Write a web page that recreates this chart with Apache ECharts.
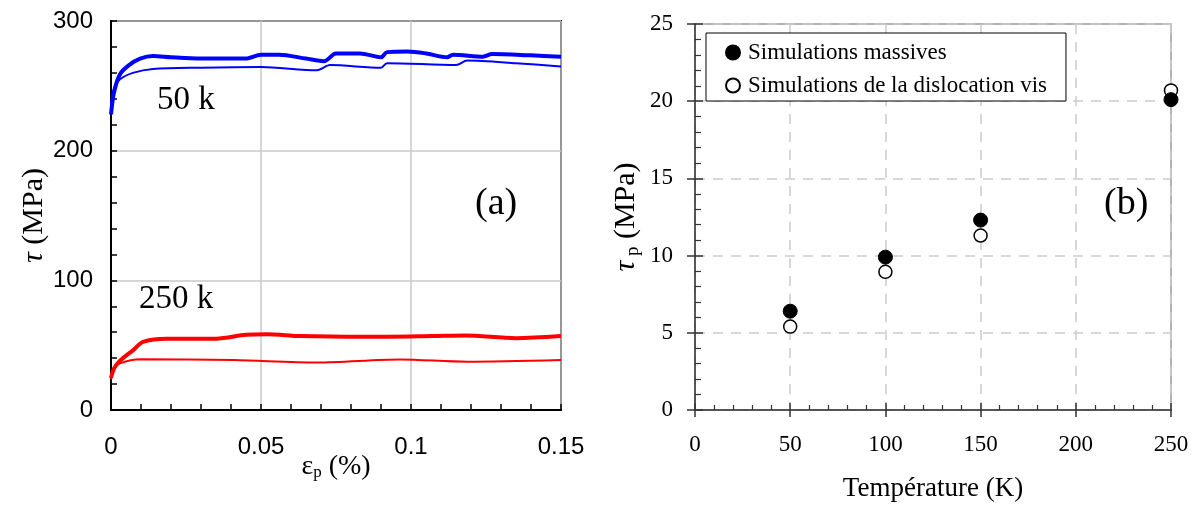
<!DOCTYPE html>
<html>
<head>
<meta charset="utf-8">
<script src="https://cdn.jsdelivr.net/npm/echarts@6/dist/echarts.min.js"></script>
<style>
  html, body { margin: 0; padding: 0; background: #fff; }
  #main { width: 1197px; height: 508px; }
</style>
</head>
<body>
<div id="main"></div>
<script>
// (a) courbes contrainte / deformation
var blueThickX = [0, 0.001, 0.003, 0.006, 0.0097, 0.014, 0.02, 0.03, 0.045, 0.05, 0.056, 0.065, 0.071, 0.075, 0.083, 0.09, 0.092, 0.0987, 0.105, 0.112, 0.114, 0.124, 0.127, 0.14, 0.15]
var blueThickY = [228, 245, 259, 266, 271, 273, 272, 271, 271, 274, 274, 271, 269, 275, 275, 272, 276, 276.5, 275, 272, 274, 272.5, 274.5, 273.5, 272.5]
var blueThinX = [0, 0.001, 0.003, 0.0073, 0.014, 0.03, 0.05, 0.0687, 0.073, 0.09, 0.092, 0.115, 0.1187, 0.135, 0.15]
var blueThinY = [236, 248, 255, 260, 263, 264, 264.5, 262, 266, 264, 267.5, 266, 269.5, 267.5, 265]
var redThickX = [0, 0.001, 0.003, 0.0073, 0.0107, 0.0187, 0.035, 0.045, 0.052, 0.063, 0.085, 0.107, 0.118, 0.135, 0.15]
var redThickY = [24.6, 32, 38, 46, 52.6, 55, 55, 58, 58.5, 57, 56.4, 57, 57.5, 55.4, 57]
var redThinX = [0, 0.001, 0.003, 0.0097, 0.041, 0.0687, 0.0963, 0.1187, 0.15]
var redThinY = [24, 32, 36, 39.2, 38.5, 36.7, 39, 37.2, 38.5]

// (b) contrainte de Peierls vs temperature
var temperatures = [50, 100, 150, 250]
var massives = [6.4, 9.9, 12.3, 20.1]
var vis = [5.4, 8.95, 11.3, 20.7]
var seriesNames = ['Simulations massives', 'Simulations de la dislocation vis']

function pairs(xs, ys) {
  return xs.map(function (x, i) { return [x, ys[i]] })
}

var sans = 'Liberation Sans, Arial, sans-serif'
var serif = 'Liberation Serif, Times New Roman, serif'

var myChart = echarts.init(document.getElementById('main'), null, { renderer: 'canvas' })
myChart.setOption({
  animation: false,
  backgroundColor: '#fff',
  grid: [
    { left: 111, top: 21, width: 450, height: 389, show: true, borderColor: '#000', borderWidth: 2 },
    { left: 695, top: 24, width: 476, height: 386, show: true, borderColor: '#999', borderWidth: 1.5 }
  ],
  legend: {
    data: seriesNames,
    orient: 'vertical',
    left: 706,
    top: 33,
    padding: [8, 19, 4, 19],
    itemGap: 10,
    itemWidth: 14,
    itemHeight: 14,
    borderColor: '#000',
    borderWidth: 1,
    backgroundColor: '#fff',
    textStyle: { fontFamily: serif, fontSize: 23, color: '#000', padding: [0, 0, 0, 3] }
  },
  xAxis: [
    {
      gridIndex: 0, type: 'value', min: 0, max: 0.15, interval: 0.05,
      axisLine: { show: true, lineStyle: { color: '#000', width: 2 } },
      axisTick: { show: true, inside: true, length: 6, lineStyle: { color: '#000', width: 1.5 } },
      minorTick: { show: true, splitNumber: 5, length: 6, lineStyle: { color: '#000', width: 1.5 } },
      splitLine: { show: true, lineStyle: { color: '#c8c8c8', width: 1.5 } },
      axisLabel: { fontFamily: sans, fontSize: 24, color: '#000', margin: 25 },
      name: '{e|ε}{s|p}{e| (%)}',
      nameLocation: 'middle',
      nameGap: 42,
      nameMoveOverlap: false,
      nameTextStyle: {
        rich: {
          e: { fontFamily: serif, fontSize: 28, color: '#000' },
          s: { fontFamily: serif, fontSize: 17, color: '#000', verticalAlign: 'bottom', padding: [12, 0, 0, 0] }
        }
      }
    },
    {
      gridIndex: 1, type: 'value', min: 0, max: 250, interval: 50, position: 'bottom',
      axisLine: { show: true, lineStyle: { color: '#333', width: 1.5 } },
      axisTick: { show: true, inside: false, length: 7, lineStyle: { color: '#333', width: 1.5 } },
      splitLine: { show: true, lineStyle: { color: '#ccc', width: 1.5, type: [10, 8] } },
      axisLabel: { fontFamily: serif, fontSize: 23, color: '#000', margin: 23 },
      name: 'Température (K)',
      nameLocation: 'middle',
      nameGap: 65,
      nameTextStyle: { fontFamily: serif, fontSize: 27, color: '#000' }
    },
    {
      gridIndex: 1, type: 'value', min: 0, max: 250, interval: 50, position: 'bottom',
      axisLine: { show: false },
      axisTick: { show: true, inside: true, length: 7, lineStyle: { color: '#333', width: 1.5 } },
      minorTick: { show: true, splitNumber: 5, length: 5, lineStyle: { color: '#333', width: 1.2 } },
      splitLine: { show: false },
      axisLabel: { show: false }
    }
  ],
  yAxis: [
    {
      gridIndex: 0, type: 'value', min: 0, max: 300, interval: 100,
      axisLine: { show: true, lineStyle: { color: '#000', width: 2 } },
      axisTick: { show: true, inside: true, length: 6, lineStyle: { color: '#000', width: 1.5 } },
      minorTick: { show: true, splitNumber: 5, length: 6, lineStyle: { color: '#000', width: 1.5 } },
      splitLine: { show: true, lineStyle: { color: '#c8c8c8', width: 1.5 } },
      axisLabel: { fontFamily: sans, fontSize: 24, color: '#000', margin: 18 },
      name: '{t|τ}{m| (MPa)}',
      nameLocation: 'middle',
      nameRotate: 90,
      nameGap: 58,
      nameTextStyle: {
        rich: {
          t: { fontFamily: serif, fontSize: 30, fontStyle: 'italic', color: '#000' },
          m: { fontFamily: serif, fontSize: 30, color: '#000' }
        }
      }
    },
    {
      gridIndex: 1, type: 'value', min: 0, max: 25, interval: 5, position: 'left',
      axisLine: { show: true, lineStyle: { color: '#333', width: 1.5 } },
      axisTick: { show: true, inside: false, length: 8, lineStyle: { color: '#333', width: 1.5 } },
      splitLine: { show: true, lineStyle: { color: '#ccc', width: 1.5, type: [10, 8] } },
      axisLabel: { fontFamily: serif, fontSize: 23, color: '#000', margin: 22 },
      name: '{t|τ}{s| p}{m| (MPa)}',
      nameLocation: 'middle',
      nameRotate: 90,
      nameGap: 52,
      nameTextStyle: {
        rich: {
          t: { fontFamily: serif, fontSize: 30, fontStyle: 'italic', color: '#000' },
          s: { fontFamily: serif, fontSize: 19, color: '#000', verticalAlign: 'bottom', padding: [14, 0, 0, 0] },
          m: { fontFamily: serif, fontSize: 30, color: '#000' }
        }
      }
    },
    {
      gridIndex: 1, type: 'value', min: 0, max: 25, interval: 5, position: 'left',
      axisLine: { show: false },
      axisTick: { show: true, inside: true, length: 8, lineStyle: { color: '#333', width: 1.5 } },
      minorTick: { show: true, splitNumber: 5, length: 6, lineStyle: { color: '#333', width: 1.2 } },
      splitLine: { show: false },
      axisLabel: { show: false }
    }
  ],
  graphic: [
    { type: 'text', left: 157, top: 84, style: { text: '50 k', font: '33px ' + serif, fill: '#000' } },
    { type: 'text', left: 139, top: 283, style: { text: '250 k', font: '33px ' + serif, fill: '#000' } },
    { type: 'text', left: 475, top: 185, style: { text: '(a)', font: '38px ' + serif, fill: '#000' } },
    { type: 'text', left: 1104, top: 185, style: { text: '(b)', font: '38px ' + serif, fill: '#000' } }
  ],
  series: [
    {
      name: 'blue-thick', type: 'line', xAxisIndex: 0, yAxisIndex: 0, showSymbol: false, smooth: 0.3,
      lineStyle: { color: '#0000ff', width: 4 }, data: pairs(blueThickX, blueThickY), z: 3
    },
    {
      name: 'blue-thin', type: 'line', xAxisIndex: 0, yAxisIndex: 0, showSymbol: false, smooth: 0.3,
      lineStyle: { color: '#0000ff', width: 2 }, data: pairs(blueThinX, blueThinY), z: 3
    },
    {
      name: 'red-thick', type: 'line', xAxisIndex: 0, yAxisIndex: 0, showSymbol: false, smooth: 0.3,
      lineStyle: { color: '#ff0000', width: 4 }, data: pairs(redThickX, redThickY), z: 3
    },
    {
      name: 'red-thin', type: 'line', xAxisIndex: 0, yAxisIndex: 0, showSymbol: false, smooth: 0.3,
      lineStyle: { color: '#ff0000', width: 2 }, data: pairs(redThinX, redThinY), z: 3
    },
    {
      name: seriesNames[0], type: 'scatter', xAxisIndex: 1, yAxisIndex: 1, symbol: 'circle', symbolSize: 14,
      itemStyle: { color: '#000', borderColor: '#000', borderWidth: 1, opacity: 1 },
      data: pairs(temperatures, massives), z: 5
    },
    {
      name: seriesNames[1], type: 'scatter', xAxisIndex: 1, yAxisIndex: 1, symbol: 'circle', symbolSize: 13,
      itemStyle: { color: '#fff', borderColor: '#000', borderWidth: 1.5, opacity: 1 },
      data: pairs(temperatures, vis), z: 4
    }
  ]
})
</script>
</body>
</html>
